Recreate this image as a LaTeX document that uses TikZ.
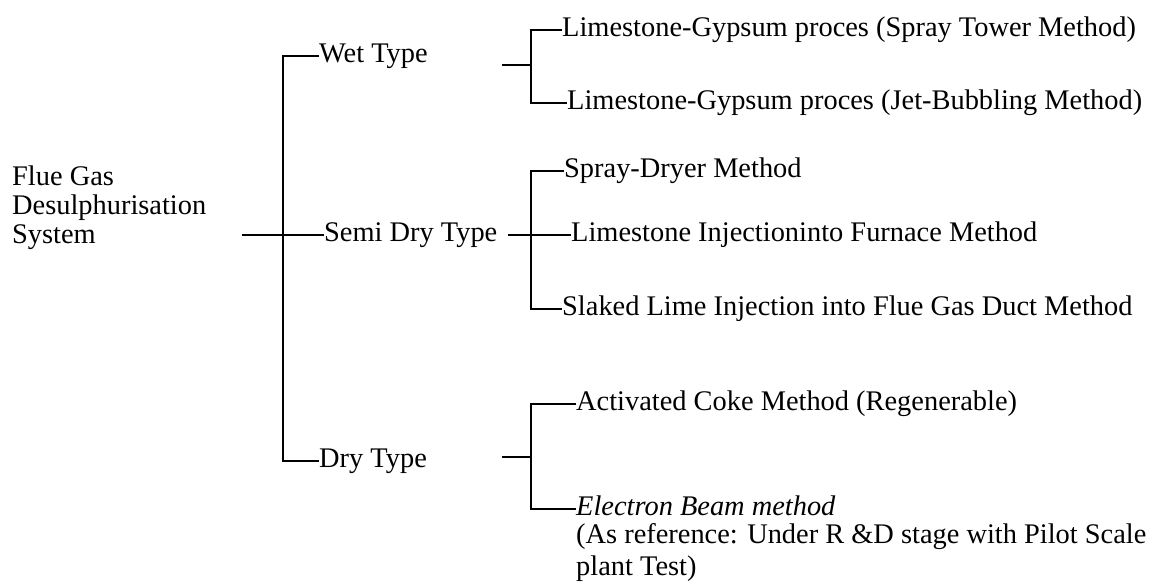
\documentclass[tikz,border=0pt]{standalone}
\usepackage{fontspec}
\setmainfont{Liberation Serif}
\usetikzlibrary{positioning}

\tikzset{
  lbl/.style={font=\fontsize{28.4}{32}\selectfont, inner sep=0pt, anchor=west,
    text height=19pt, text depth=6pt},
  para/.style={font=\fontsize{28.4}{32}\selectfont, inner sep=0pt, align=left},
  link/.style={line width=1.6pt},
  spine/.style={line width=2.8pt}
}

\begin{document}
\begin{tikzpicture}[x=1pt, y=-1pt]
  \useasboundingbox (0,0) rectangle (1159,587);

  % root
  \node[para, font=\fontsize{28.4}{29}\selectfont, anchor=west] (root) at (12,208)
    {Flue Gas\\Desulphurisation\\System};

  % first level
  \node[lbl] (wet)  at (319,56)  {Wet Type};
  \node[lbl] (semi) at (324,235) {Semi Dry Type};
  \node[lbl] (dry)  at (319,461) {Dry Type};

  % second level
  \node[lbl] (lgs) at (562,30)  {Limestone-Gypsum proces (Spray Tower Method)};
  \node[lbl] (lgj) at (567,103) {Limestone-Gypsum proces (Jet-Bubbling Method)};
  \node[lbl] (sdm) at (564,171) {Spray-Dryer Method};
  \node[lbl] (lif) at (571,235) {Limestone Injectioninto Furnace Method};
  \node[lbl] (slm) at (562,309) {Slaked Lime Injection into Flue Gas Duct Method};
  \node[lbl] (acm) at (576,404) {Activated Coke Method (Regenerable)};
  \node[lbl, font=\fontsize{28.4}{32}\selectfont\itshape] (ebm) at (576,509) {Electron Beam method};
  \node[para, anchor=north west] (ebn) at ([yshift=-2pt]ebm.south west)
    {(As reference: Under R \&D stage with Pilot Scale\\plant Test)};

  % forks
  \coordinate (rootstub) at (242,235);
  \coordinate (trunk)    at (283,235);
  \coordinate (wetstub)  at (502,65);
  \coordinate (wetfork)  at (531,65);
  \coordinate (semifork) at (531,235);
  \coordinate (drystub)  at (502,457);
  \coordinate (dryfork)  at (531,457);

  % main tree
  \draw[link] (rootstub) -- (semi.west);
  \draw[link] (wet.west) -| (trunk) |- (dry.west);
  \draw[spine] (wet.west -| trunk) -- (dry.west -| trunk);

  % wet type
  \draw[link] (wetstub) -- (wetfork);
  \draw[link] (lgs.west) -| (wetfork) |- (lgj.west);
  \draw[spine] (lgs.west -| wetfork) -- (lgj.west -| wetfork);

  % semi dry type
  \draw[link] ([xshift=10pt]semi.east) -- (lif.west);
  \draw[link] (sdm.west) -| (semifork) |- (slm.west);
  \draw[spine] (sdm.west -| semifork) -- (slm.west -| semifork);

  % dry type
  \draw[link] (drystub) -- (dryfork);
  \draw[link] (acm.west) -| (dryfork) |- (ebm.west);
  \draw[spine] (acm.west -| dryfork) -- (ebm.west -| dryfork);
\end{tikzpicture}
\end{document}
